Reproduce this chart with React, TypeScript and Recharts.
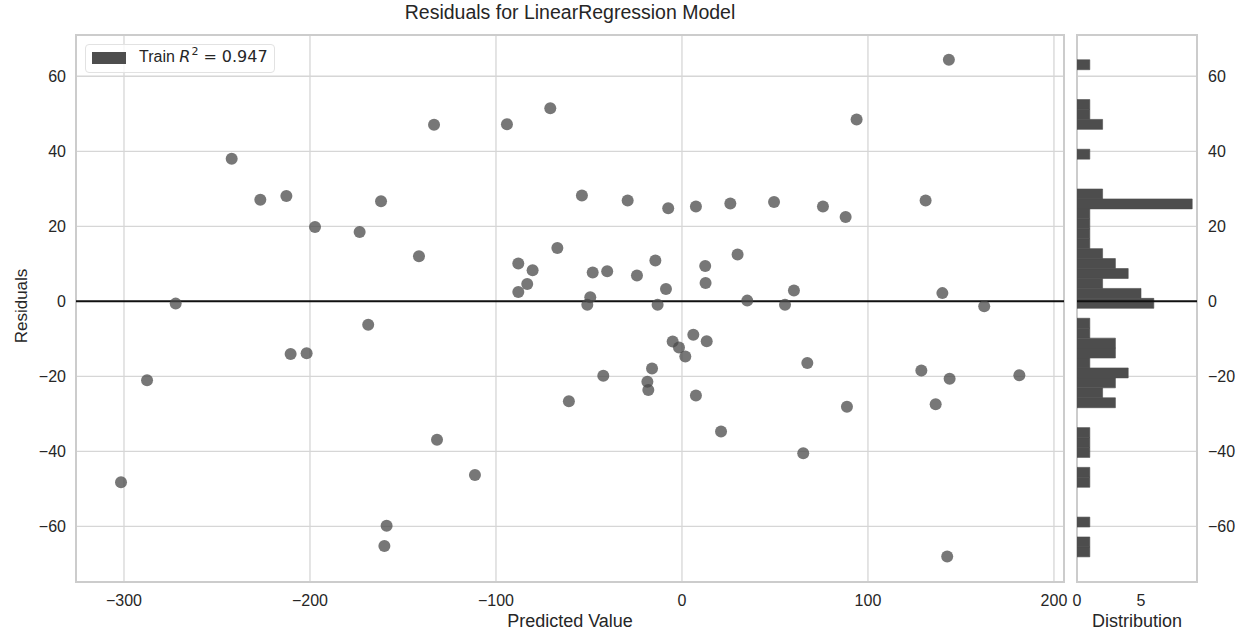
import { Bar, BarChart, CartesianGrid, ReferenceArea, ReferenceLine, Scatter, ScatterChart, XAxis, YAxis } from "recharts";

// values
const predicted = [
  -242.1, -226.7, -212.7, -161.8, -133.3, -197.3, -173.3, -141.4, -272.2, -168.7,
  -210.4, -201.8, -287.6, -301.6, -158.8, -160.0, -131.7, -94.1, -70.8, -53.8,
  -29.2, -7.4, 7.5, 26.0, 49.5, -67.0, -88.0, -80.3, -83.2, -88.0,
  -48.0, -40.2, -24.2, -14.3, -8.6, -49.3, -50.9, -13.1, 12.5, 12.7,
  29.9, 35.1, 55.4, -5.0, -1.6, 1.8, 6.1, 13.3, -16.1, -18.6,
  -18.1, -42.3, -60.8, 7.5, 21.0, -111.3, 143.5, 93.9, 75.8, 88.0,
  131.0, 60.2, 140.0, 162.5, 67.4, 88.7, 128.7, 143.9, 181.4, 136.4,
  65.2, 142.6,
];
const residuals = [
  38.0, 27.1, 28.1, 26.7, 47.1, 19.8, 18.5, 12.0, -0.6, -6.2,
  -14.0, -13.8, -21.0, -48.2, -59.8, -65.2, -36.9, 47.2, 51.5, 28.2,
  26.9, 24.8, 25.3, 26.1, 26.5, 14.2, 10.1, 8.3, 4.6, 2.5,
  7.7, 8.0, 6.9, 10.9, 3.3, 1.1, -0.9, -0.9, 9.4, 4.9,
  12.5, 0.2, -0.9, -10.7, -12.3, -14.7, -8.9, -10.6, -17.9, -21.4,
  -23.6, -19.8, -26.6, -25.1, -34.7, -46.3, 64.4, 48.5, 25.3, 22.5,
  26.9, 2.9, 2.2, -1.3, -16.4, -28.1, -18.4, -20.6, -19.7, -27.4,
  -40.5, -68.0,
];

// histogram: 50 bins from the lowest residual upwards
const histStart = -68.1;
const histBinWidth = 2.65;
const histCounts = [
  1, 1, 0, 1, 0, 0, 0, 1, 1, 0,
  1, 1, 1, 0, 0, 3, 2, 3, 4, 1,
  3, 3, 1, 1, 0, 6, 5, 2, 4, 3,
  2, 1, 1, 1, 1, 9, 2, 0, 0, 0,
  1, 0, 0, 2, 1, 1, 0, 0, 0, 1,
];

const xTicks = [-300, -200, -100, 0, 100, 200];
const yTicks = [-60, -40, -20, 0, 20, 40, 60];
const distTicks = [0, 5];
const xDomain: [number, number] = [-325.8, 205.4];
const yDomain: [number, number] = [-74.8, 71.0];
const distDomain: [number, number] = [0, 9.375];

const points = predicted.map((x, i) => ({ x, y: residuals[i] }));
const histData = histCounts.map((count, i) => ({ center: histStart + histBinWidth * (i + 0.5), count }));

const FONT = '"Liberation Sans", Arial, sans-serif';
const MATH = '"DejaVu Sans", sans-serif';
const TEXT = "#262626";
const GRID = "#d6d6d6";
const FRAME = "#cccccc";
const BAR = "#4d4d4d";

const fmt = (v: number) => (v < 0 ? `\u2212${-v}` : `${v}`);
const tickStyle = { fill: TEXT, fontSize: 16, fontFamily: FONT };

const Dot = (props: any) => (
  <circle cx={props.cx} cy={props.cy} r={6} fill="#4a4a4a" fillOpacity={0.75} />
);

export default function App() {
  return (
    <div style={{ position: "absolute", left: 0, top: 0, width: 1247, height: 633, background: "#fff", fontFamily: FONT, color: TEXT }}>
      <div style={{ position: "absolute", left: 570, top: 0, transform: "translateX(-50%)", fontSize: 19.5, lineHeight: "24px", whiteSpace: "nowrap" }}>
        Residuals for LinearRegression Model
      </div>

      <div style={{ position: "absolute", left: 0, top: 0 }}>
        <ScatterChart width={1070} height={633} margin={{ top: 35, right: 6, bottom: 21, left: 16 }}>
          <CartesianGrid stroke={GRID} strokeWidth={1.3} />
          <XAxis
            type="number"
            dataKey="x"
            domain={xDomain}
            ticks={xTicks}
            allowDataOverflow
            axisLine={false}
            tickLine={false}
            tickSize={0}
            tickMargin={13}
            height={30}
            tick={tickStyle}
            tickFormatter={fmt}
          />
          <YAxis
            type="number"
            dataKey="y"
            domain={yDomain}
            ticks={yTicks}
            allowDataOverflow
            axisLine={false}
            tickLine={false}
            tickSize={0}
            tickMargin={10}
            width={60}
            tick={tickStyle}
            tickFormatter={fmt}
          />
          <ReferenceArea x1={xDomain[0]} x2={xDomain[1]} y1={yDomain[0]} y2={yDomain[1]} fill="none" stroke={FRAME} strokeWidth={2} />
          <Scatter data={points} shape={Dot} isAnimationActive={false} />
          <ReferenceLine y={0} stroke="#111" strokeWidth={2} />
        </ScatterChart>
      </div>

      <div style={{ position: "absolute", left: 1070, top: 0 }}>
        <BarChart layout="vertical" width={177} height={633} data={histData} margin={{ top: 35, right: 0, bottom: 21, left: 7 }} barGap={0} barCategoryGap={0}>
          <CartesianGrid vertical={false} stroke={GRID} strokeWidth={1.3} />
          <XAxis
            type="number"
            domain={distDomain}
            ticks={distTicks}
            allowDataOverflow
            axisLine={false}
            tickLine={false}
            tickSize={0}
            tickMargin={13}
            height={30}
            tick={tickStyle}
          />
          <YAxis
            type="number"
            dataKey="center"
            orientation="right"
            reversed
            domain={yDomain}
            ticks={yTicks}
            allowDataOverflow
            axisLine={false}
            tickLine={false}
            tickSize={0}
            tickMargin={11}
            width={50}
            tick={tickStyle}
            tickFormatter={fmt}
          />
          <ReferenceArea x1={distDomain[0]} x2={distDomain[1]} y1={yDomain[0]} y2={yDomain[1]} fill="none" stroke={FRAME} strokeWidth={2} />
          <Bar dataKey="count" fill={BAR} stroke={BAR} strokeWidth={0.6} barSize={9.93} isAnimationActive={false} />
          <ReferenceLine y={0} stroke="#111" strokeWidth={2} />
        </BarChart>
      </div>

      {/* legend */}
      <div style={{ position: "absolute", left: 85, top: 44, width: 190, height: 29, boxSizing: "border-box", border: "1px solid #e2e2e2", borderRadius: 4, background: "rgba(255,255,255,0.8)" }}>
        <div style={{ position: "absolute", left: 6, top: 7, width: 34, height: 12, background: BAR }} />
        <div style={{ position: "absolute", left: 53, top: 2, fontSize: 16, lineHeight: "20px", whiteSpace: "nowrap" }}>
          Train{" "}
          <span style={{ fontFamily: MATH }}>
            <i>R</i>
            <span style={{ fontSize: 11, position: "relative", top: -7, marginLeft: 1 }}>2</span>
            <span style={{ margin: "0 5px" }}>=</span>0.947
          </span>
        </div>
      </div>

      <div style={{ position: "absolute", left: 22, top: 306, transform: "translate(-50%, -50%) rotate(-90deg)", fontSize: 17, lineHeight: "22px", whiteSpace: "nowrap" }}>
        Residuals
      </div>
      <div style={{ position: "absolute", left: 570, top: 610, transform: "translateX(-50%)", fontSize: 18, lineHeight: "22px", whiteSpace: "nowrap" }}>
        Predicted Value
      </div>
      <div style={{ position: "absolute", left: 1137, top: 610, transform: "translateX(-50%)", fontSize: 18, lineHeight: "22px", whiteSpace: "nowrap" }}>
        Distribution
      </div>
    </div>
  );
}
